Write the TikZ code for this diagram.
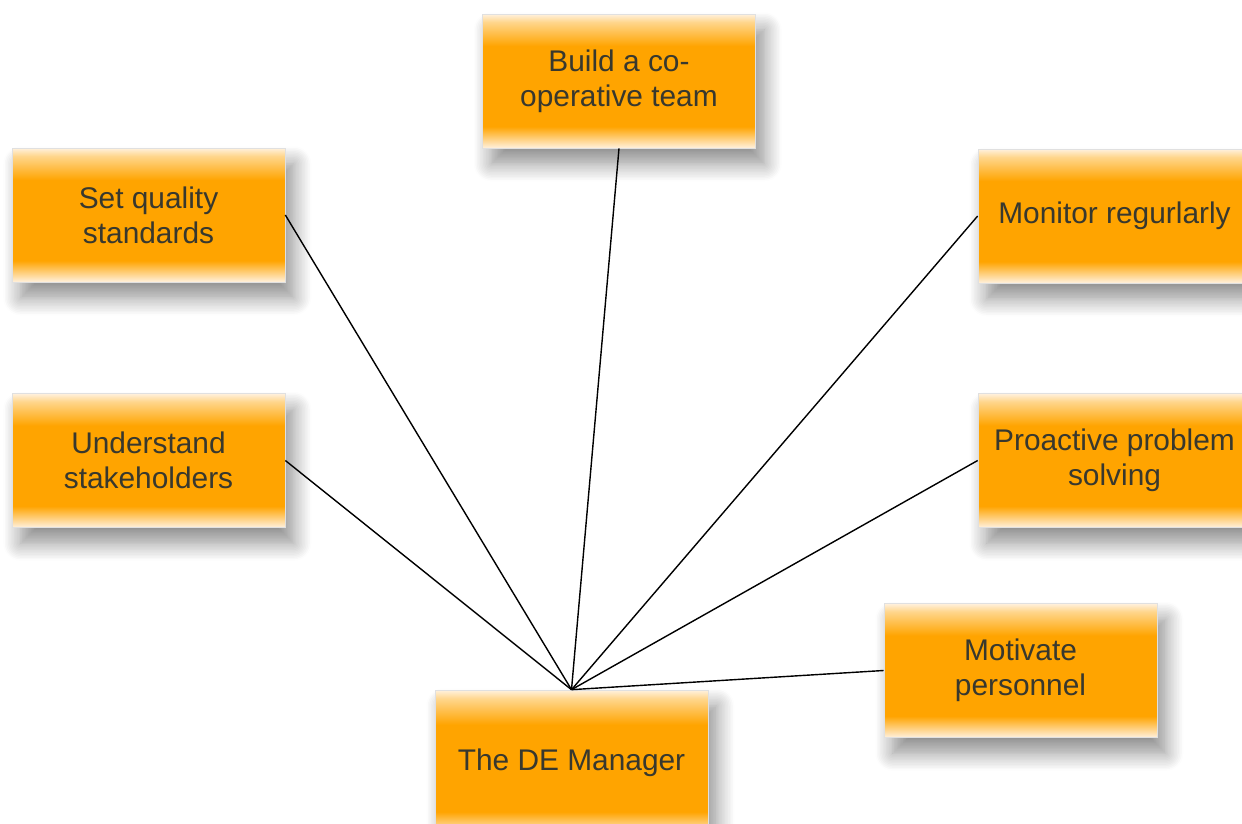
\documentclass[tikz,border=0pt]{standalone}
\usepackage{fontspec}
\setmainfont{Liberation Sans}
\usetikzlibrary{shadows.blur}
\definecolor{boxorange}{HTML}{FFA400}
\definecolor{boxlight}{HTML}{FFF1DE}
\definecolor{boxtext}{HTML}{38382E}
\pgfdeclareverticalshading{boxshade}{100bp}{color(0bp)=(boxlight); color(25bp)=(boxlight); color(33bp)=(boxorange); color(63bp)=(boxorange); color(72bp)=(boxorange!45!white); color(75bp)=(boxlight); color(100bp)=(boxlight)}
\begin{document}
\begin{tikzpicture}[x=0.02cm,y=-0.02cm]
				% Set styles
				\tikzset{task box/.style={draw=black!12, shading=boxshade, minimum width=5.46cm, minimum height=2.68cm, align=center, text=boxtext, font=\fontsize{17pt}{20pt}\selectfont, blur shadow={shadow xshift=5pt, shadow yshift=-9pt, shadow blur radius=10pt, shadow blur steps=12, shadow opacity=45}}}
				\useasboundingbox (0,0) rectangle (1242,824);
				
				% Draw the tasks
				\node [task box] (team) at (619,81) {Build a co-\\operative team};
				\node [task box] (quality) at (148.5,215) {Set quality\\standards};
				\node [task box] (monitor) at (1114.5,216) {Monitor regurlarly};
				\node [task box] (stake) at (148.5,460.5) {Understand\\stakeholders};
				\node [task box] (proactive) at (1114.5,460.5) {Proactive problem\\solving};
				\node [task box] (motivate) at (1020.5,670.5) {Motivate\\personnel};
				\node [task box, minimum height=2.9cm] (manager) at (571.5,762.5) {The DE Manager};
				
				% Lines to the manager
				\draw [line width=0.8pt] (manager.north) -- (quality.east);
				\draw [line width=0.8pt] (manager.north) -- (stake.east);
				\draw [line width=0.8pt] (manager.north) -- (team.south);
				\draw [line width=0.8pt] (manager.north) -- (monitor.west);
				\draw [line width=0.8pt] (manager.north) -- (proactive.west);
				\draw [line width=0.8pt] (manager.north) -- (motivate.west);
				
			\end{tikzpicture}
\end{document}
